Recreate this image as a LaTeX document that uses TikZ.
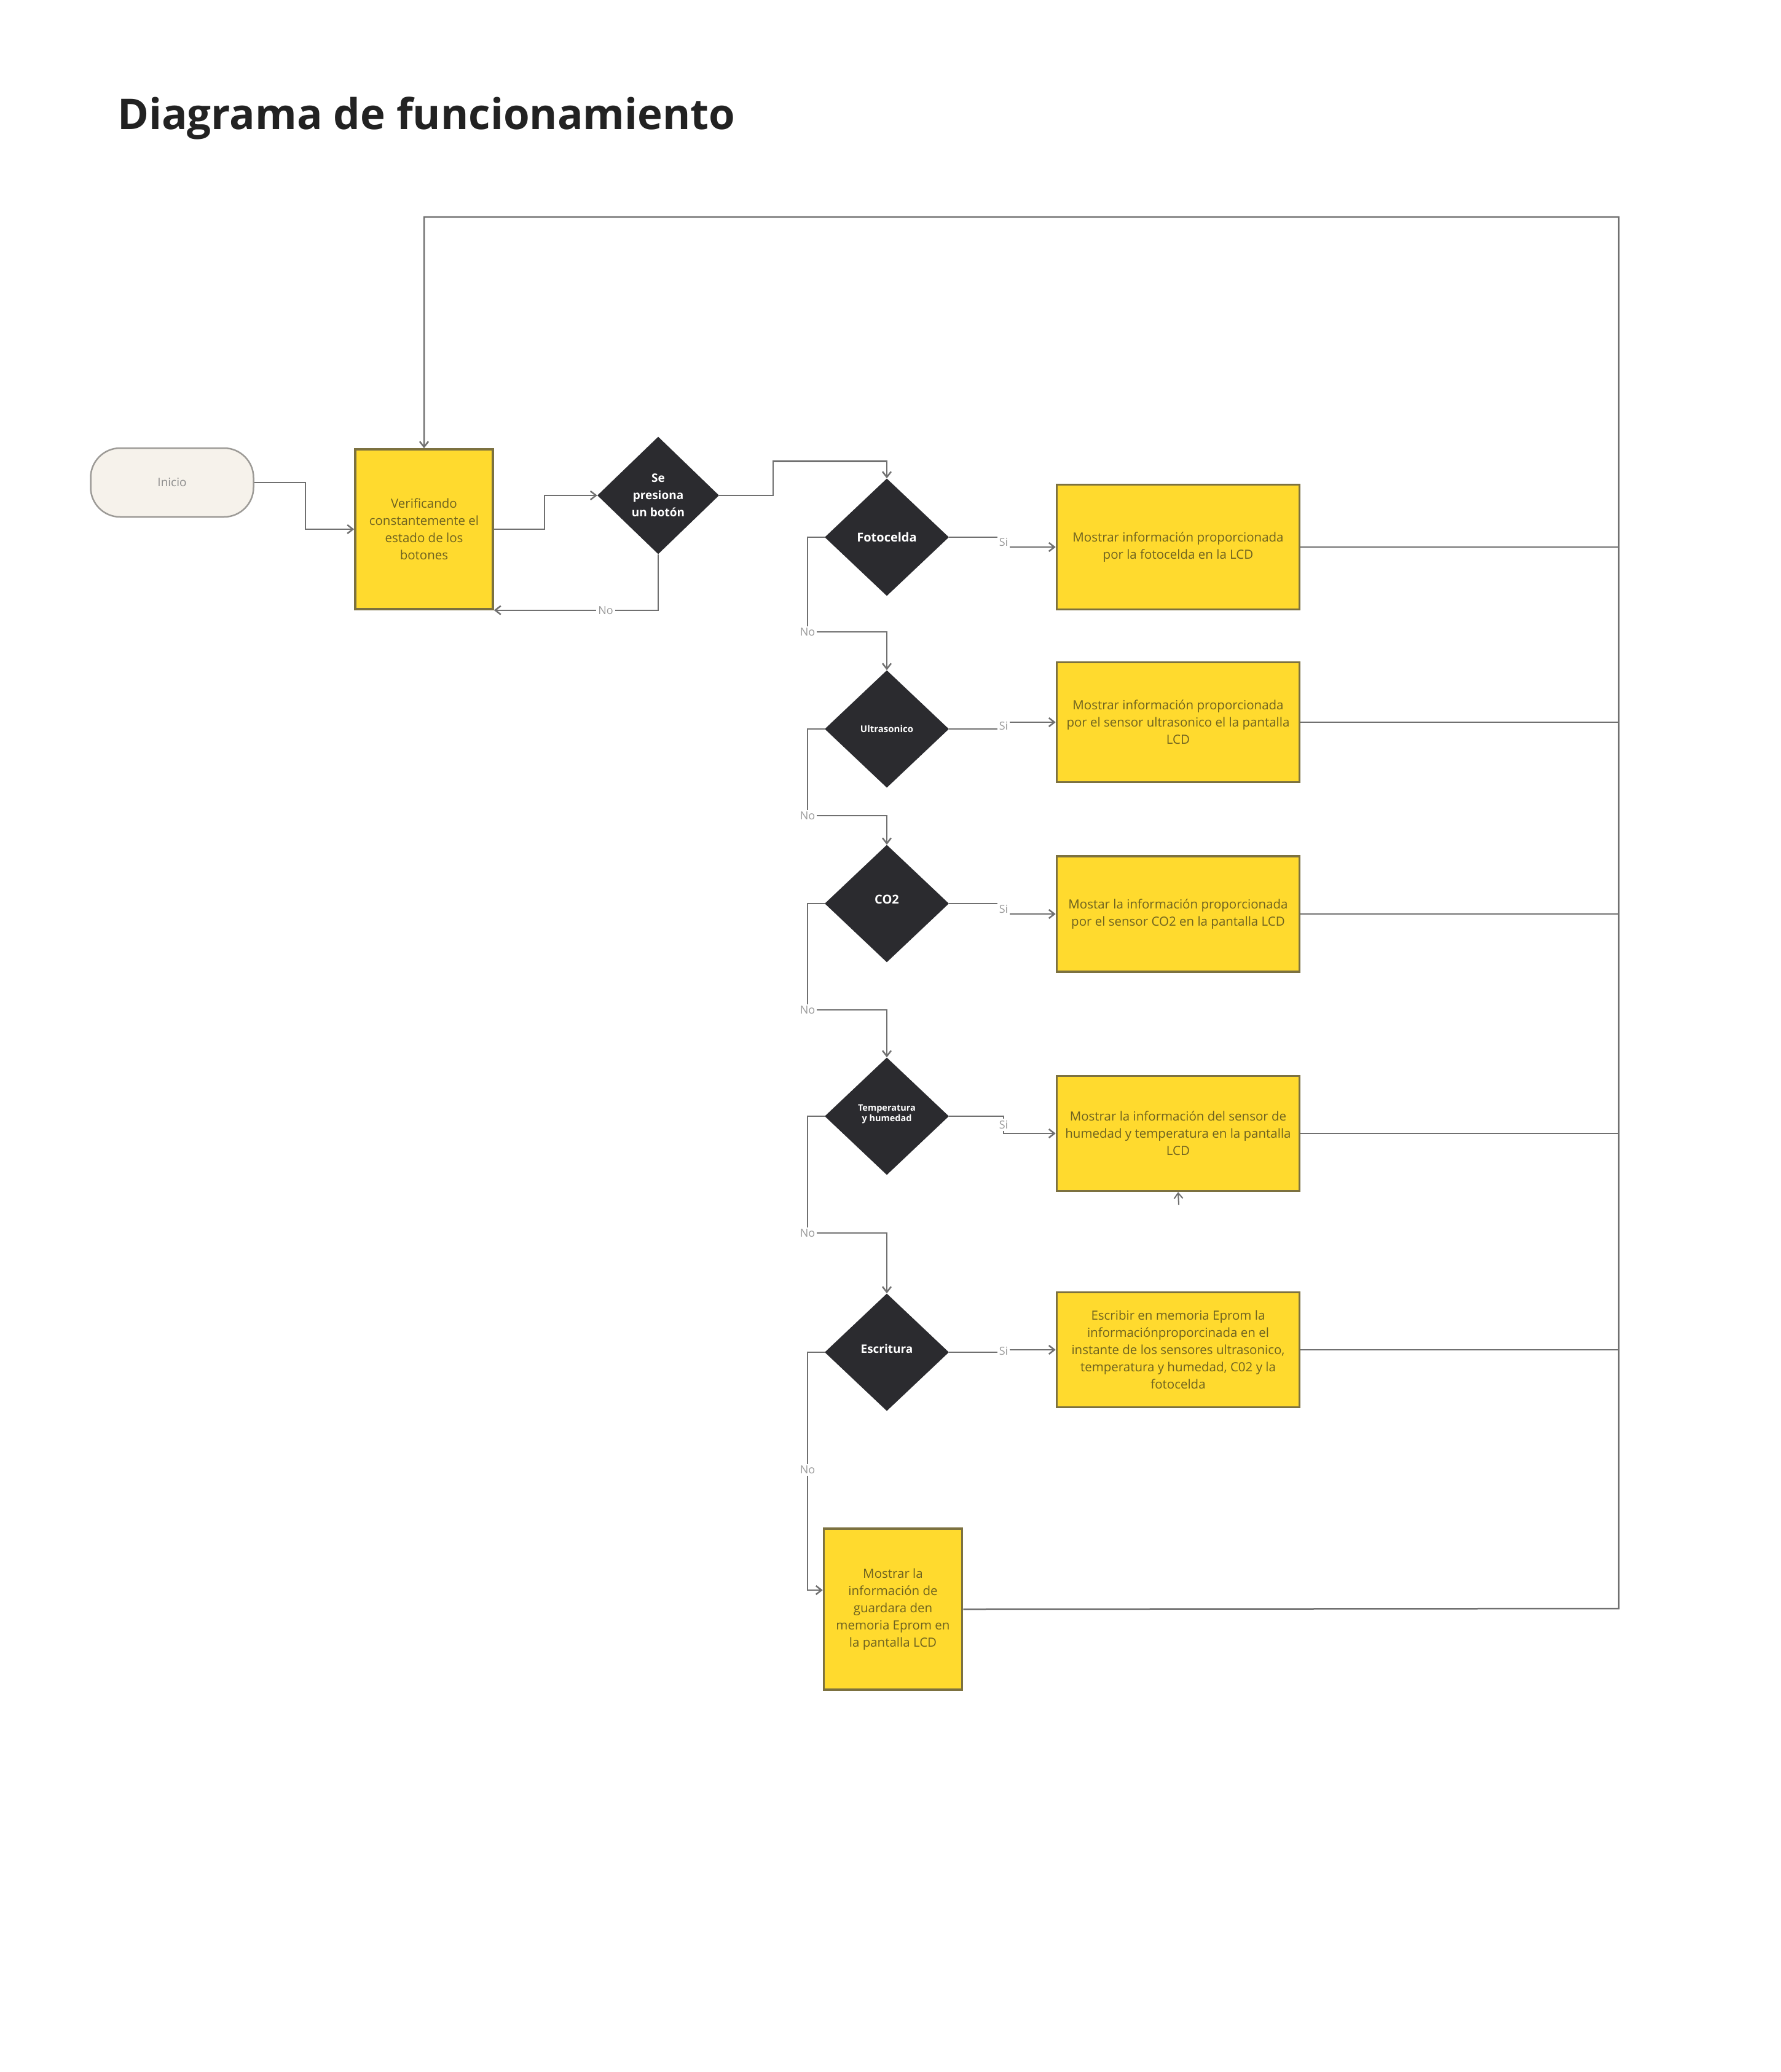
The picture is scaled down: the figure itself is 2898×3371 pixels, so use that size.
\documentclass[tikz,border=0pt]{standalone}
\usepackage{fontspec}
\setmainfont{Open Sans}
\usetikzlibrary{shapes.geometric,arrows.meta,calc}
\definecolor{yfill}{HTML}{FFDA2E}
\definecolor{yborder}{HTML}{7C7140}
\definecolor{ytext}{HTML}{6E6220}
\definecolor{dfill}{HTML}{2B2B2F}
\definecolor{lgray}{HTML}{707070}
\definecolor{labgray}{HTML}{9A9A9A}
\definecolor{cream}{HTML}{F6F2EB}
\definecolor{creamb}{HTML}{9C9A96}
\definecolor{titlec}{HTML}{222222}
\begin{document}
\begin{tikzpicture}[x=1pt,y=-1pt,
  conn/.style={draw=lgray, line width=2.5pt},
  arr/.style={conn, -{Straight Barb[length=9pt,width=14pt]}},
  ybox/.style={draw=yborder, fill=yfill, line width=3.5pt, text=ytext, align=center,
    font=\fontsize{20.5}{28}\selectfont, inner sep=0pt},
  dec/.style={diamond, fill=dfill, draw=none, text=white, align=center, inner sep=0pt,
    minimum width=202pt, minimum height=191pt, font=\bfseries\fontsize{20}{28}\selectfont},
  startbox/.style={draw=creamb, fill=cream, line width=2.5pt, rounded corners=48pt,
    text=labgray!90!black, font=\fontsize{19}{22}\selectfont},
  lab/.style={fill=white, text=labgray, font=\fontsize{18}{20}\selectfont, inner sep=3pt}
]
\path[use as bounding box, fill=white] (0,0) rectangle (2898,3371);

\node[anchor=base west, inner sep=0pt, text=titlec, font=\bfseries\fontsize{69}{72}\selectfont] (title) at (191,210) {Diagrama de funcionamiento};

% nodes
\node[startbox, minimum width=265pt, minimum height=112pt] (inicio) at (280,785) {Inicio};
\node[ybox, minimum width=224pt, minimum height=260pt] (verif) at (690,861) {Verificando\\constantemente el\\estado de los\\botones};
\node[dec, minimum width=198pt, font=\bfseries\fontsize{19}{28}\selectfont] (boton) at (1071,806) {Se\\presiona\\un botón};

\node[dec] (foto) at (1443,874) {Fotocelda};
\node[dec, font=\bfseries\fontsize{15}{20}\selectfont] (ultra) at (1443,1186) {Ultrasonico};
\node[dec] (co2) at (1443,1470) {\raisebox{13pt}{CO2}};
\node[dec, font=\bfseries\fontsize{14.5}{21}\selectfont] (temp) at (1443,1816) {\raisebox{10pt}{\shortstack{Temperatura\\y humedad}}};
\node[dec, font=\bfseries\fontsize{19}{28}\selectfont] (esc) at (1443,2200) {\raisebox{12pt}{Escritura}};

\node[ybox, minimum width=395pt, minimum height=203pt] (b1) at (1917,890) {Mostrar información proporcionada\\por la fotocelda en la LCD};
\node[ybox, minimum width=395pt, minimum height=195pt] (b2) at (1917,1175) {Mostrar información proporcionada\\por el sensor ultrasonico el la pantalla\\LCD};
\node[ybox, minimum width=395pt, minimum height=188pt] (b3) at (1917,1487) {Mostar la información proporcionada\\por el sensor CO2 en la pantalla LCD};
\node[ybox, minimum width=395pt, minimum height=187pt] (b4) at (1917,1844) {Mostrar la información del sensor de\\humedad y temperatura en la pantalla\\LCD};
\node[ybox, minimum width=395pt, minimum height=187pt] (b5) at (1917,2196) {Escribir en memoria Eprom la\\informaciónproporcinada en el\\instante de los sensores ultrasonico,\\temperatura y humedad, C02 y la\\fotocelda};
\node[ybox, minimum width=225pt, minimum height=262pt] (fin) at (1453,2618) {Mostrar la\\información de\\guardara den\\memoria Eprom en\\la pantalla LCD};

% main flow
\draw[arr] (inicio.east) -- (497,785) |- (verif.west);
\draw[arr] (verif.east) -- (886,861) |- (boton.west);
\draw[arr] (boton.south) |- node[lab, pos=0.66] {No} (verif.south east);
\draw[arr] (boton.east) -- (1258,806) |- ($(foto.north)+(0,-28)$) -- (foto.north);

% Si branches
\draw[arr] (foto.east) -- (1633,874) -- node[lab] {Si} (1633,890) -- (b1.west);
\draw[arr] (ultra.east) -- (1633,1186) -- node[lab] {Si} (1633,1175) -- (b2.west);
\draw[arr] (co2.east) -- (1633,1470) -- node[lab] {Si} (1633,1487) -- (b3.west);
\draw[arr] (temp.east) -- (1633,1816) -- node[lab] {Si} (1633,1844) -- (b4.west);
\draw[arr] (esc.east) -- (1633,2200) -- node[lab] {Si} (1633,2196) -- (b5.west);

% No branches
\draw[arr] (foto.west) -| (1314,1028) node[lab] {No} -| (ultra.north);
\draw[arr] (ultra.west) -| (1314,1327) node[lab] {No} -| (co2.north);
\draw[arr] (co2.west) -| (1314,1643) node[lab] {No} -| (temp.north);
\draw[arr] (temp.west) -| (1314,2006) node[lab] {No} -| (esc.north);
\draw[arr] (esc.west) -| (1314,2391) node[lab] {No} |- ($(fin.west)+(0,-31)$);

% return rail
\coordinate (rb) at (2634,2617);
\coordinate (rt) at (2634,353);
\draw[conn] (b1.east) -- (b1.east -| rb);
\draw[conn] (b2.east) -- (b2.east -| rb);
\draw[conn] (b3.east) -- (b3.east -| rb);
\draw[conn] (b4.east) -- (b4.east -| rb);
\draw[conn] (b5.east) -- (b5.east -| rb);
\draw[arr] (fin.east) -- (rb) -- (rt) -| (verif.north);

% stray arrow under b4
\coordinate (stub) at (1918,1960);
\draw[arr, line width=2pt] (stub) -- (b4.south);
\end{tikzpicture}
\end{document}
